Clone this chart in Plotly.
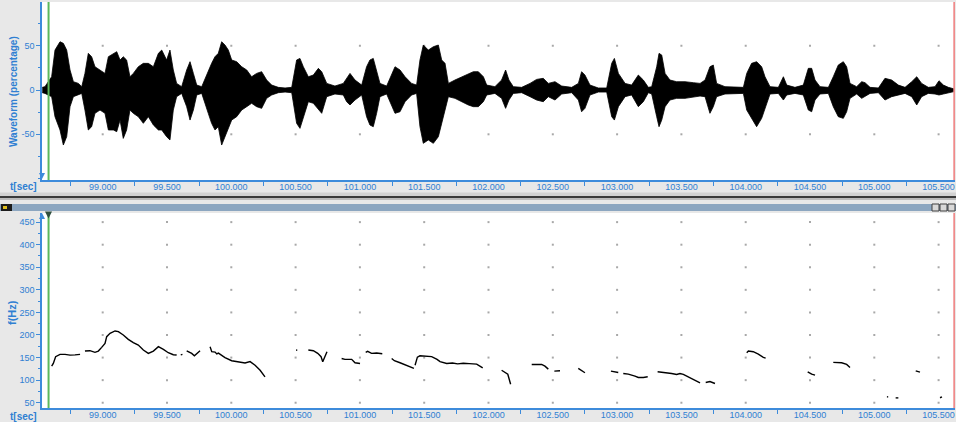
import plotly.graph_objects as go

# ---------------- data ----------------
x_ticks = [99.0, 99.5, 100.0, 100.5, 101.0, 101.5, 102.0, 102.5, 103.0, 103.5, 104.0, 104.5, 105.0, 105.5]
x_tick_labels = ["99.000", "99.500", "100.000", "100.500", "101.000", "101.500", "102.000",
                 "102.500", "103.000", "103.500", "104.000", "104.500", "105.000", "105.500"]
wave_y_ticks = [-50, 0, 50]
wave_y_labels = ["-50", "0", "50"]
pitch_y_ticks = [50, 100, 150, 200, 250, 300, 350, 400, 450]
pitch_y_labels = ["50", "100", "150", "200", "250", "300", "350", "400", "450"]

# waveform envelope (time in s, upper / lower amplitude in %)
wave_t = [98.530, 98.551, 98.603, 98.629, 98.668, 98.694, 98.720, 98.746, 98.772, 98.811,
          98.837, 98.862, 98.888, 98.914, 98.940, 98.979, 99.018, 99.044, 99.083, 99.109,
          99.135, 99.160, 99.186, 99.212, 99.238, 99.277, 99.316, 99.355, 99.394, 99.433,
          99.459, 99.497, 99.523, 99.549, 99.575, 99.614, 99.653, 99.679, 99.705, 99.731,
          99.770, 99.821, 99.847, 99.873, 99.899, 99.925, 99.951, 99.977, 100.003, 100.042,
          100.081, 100.120, 100.158, 100.197, 100.236, 100.275, 100.314, 100.366, 100.418, 100.470,
          100.508, 100.534, 100.560, 100.599, 100.638, 100.677, 100.703, 100.742, 100.806, 100.871,
          100.897, 100.923, 100.962, 101.014, 101.052, 101.078, 101.104, 101.130, 101.156, 101.208,
          101.247, 101.273, 101.312, 101.351, 101.402, 101.441, 101.467, 101.493, 101.532, 101.571,
          101.610, 101.636, 101.662, 101.688, 101.739, 101.791, 101.843, 101.882, 101.921, 101.960,
          101.986, 102.050, 102.102, 102.133, 102.159, 102.193, 102.258, 102.323, 102.374, 102.426,
          102.465, 102.517, 102.569, 102.647, 102.699, 102.724, 102.750, 102.789, 102.854, 102.919,
          102.958, 102.979, 103.010, 103.062, 103.113, 103.165, 103.204, 103.243, 103.269, 103.308,
          103.326, 103.347, 103.373, 103.411, 103.463, 103.528, 103.593, 103.645, 103.684, 103.722,
          103.748, 103.774, 103.839, 103.917, 103.982, 104.008, 104.046, 104.085, 104.124, 104.150,
          104.189, 104.254, 104.293, 104.319, 104.383, 104.448, 104.487, 104.513, 104.539, 104.578,
          104.643, 104.681, 104.720, 104.759, 104.785, 104.811, 104.863, 104.902, 104.928, 104.967,
          105.032, 105.083, 105.135, 105.187, 105.239, 105.291, 105.330, 105.368, 105.420, 105.472,
          105.503, 105.537, 105.576, 105.615, 105.628]
wave_upper = [3.0, 3.8, 15.0, 45.1, 54.5, 52.7, 45.1, 22.6, 9.4, 7.5,
              3.8, 18.8, 41.4, 37.6, 26.3, 22.6, 18.8, 37.6, 41.4, 43.3,
              33.9, 37.6, 33.9, 15.0, 18.8, 26.3, 30.1, 30.1, 26.3, 41.4,
              45.1, 33.9, 45.1, 22.6, 7.5, 3.8, 22.6, 32.0, 18.8, 5.6,
              3.8, 22.6, 30.1, 37.6, 41.4, 54.5, 50.8, 45.1, 33.9, 32.0,
              26.3, 22.6, 15.0, 18.8, 20.7, 11.3, 5.6, 3.0, 2.3, 3.0,
              33.9, 35.7, 26.3, 15.0, 16.9, 24.5, 20.7, 7.5, 4.5, 7.5,
              13.2, 18.8, 11.3, 5.6, 26.3, 33.9, 35.7, 22.6, 7.5, 4.5,
              18.8, 26.3, 22.6, 15.0, 7.5, 5.6, 33.9, 50.8, 45.1, 48.9,
              50.8, 33.9, 30.1, 7.5, 11.3, 15.0, 18.8, 20.7, 20.7, 15.0,
              5.6, 3.8, 11.3, 22.6, 11.3, 3.8, 3.0, 7.5, 12.0, 13.2,
              7.5, 9.4, 4.5, 3.0, 7.5, 20.7, 16.9, 5.6, 2.3, 2.3,
              30.1, 35.7, 18.8, 7.5, 5.6, 16.9, 11.3, 3.0, 3.8, 26.3,
              41.4, 39.5, 18.8, 11.3, 9.4, 9.4, 8.3, 7.5, 11.3, 26.3,
              28.2, 7.5, 3.8, 3.0, 3.0, 18.8, 30.1, 32.0, 26.3, 15.0,
              3.8, 3.0, 15.0, 5.6, 3.0, 5.6, 24.5, 24.5, 11.3, 3.8,
              3.0, 15.0, 28.2, 32.0, 26.3, 7.5, 3.8, 9.4, 8.3, 3.0,
              2.3, 13.2, 11.3, 5.6, 3.0, 9.4, 15.0, 7.5, 3.0, 3.8,
              10.5, 5.6, 3.0, 1.5, 1.5]
wave_lower = [-3.0, -3.8, -7.5, -30.1, -45.1, -62.1, -52.7, -18.8, -7.5, -5.6,
              -3.8, -22.6, -45.1, -41.4, -26.3, -22.6, -26.3, -45.1, -45.1, -47.0,
              -33.9, -54.6, -45.1, -22.6, -26.3, -30.1, -37.6, -30.1, -39.5, -45.1,
              -45.1, -52.7, -56.4, -22.6, -7.5, -3.8, -18.8, -33.9, -22.6, -5.6,
              -3.8, -26.3, -37.6, -45.1, -41.4, -62.1, -52.7, -45.1, -33.9, -30.1,
              -22.6, -18.8, -15.0, -18.8, -20.7, -9.4, -5.6, -3.0, -2.3, -3.0,
              -37.6, -43.3, -30.1, -13.2, -15.0, -22.6, -26.3, -7.5, -4.5, -5.6,
              -13.2, -16.9, -11.3, -5.6, -30.1, -39.5, -41.4, -26.3, -7.5, -4.5,
              -18.8, -26.3, -24.5, -13.2, -5.6, -3.8, -41.4, -60.2, -56.4, -60.2,
              -52.7, -37.6, -22.6, -7.5, -9.4, -13.2, -16.9, -18.8, -18.8, -13.2,
              -5.6, -3.8, -9.4, -20.7, -11.3, -3.8, -3.0, -7.5, -11.3, -13.2,
              -7.5, -11.3, -4.5, -3.0, -11.3, -24.5, -20.7, -5.6, -2.3, -2.3,
              -30.1, -33.9, -18.8, -7.5, -5.6, -18.8, -13.2, -3.0, -4.5, -30.1,
              -41.4, -33.9, -18.8, -11.3, -9.4, -9.4, -7.5, -6.8, -7.5, -26.3,
              -18.8, -7.5, -4.5, -3.8, -3.8, -22.6, -32.0, -41.4, -32.0, -20.7,
              -4.5, -3.8, -11.3, -5.6, -3.8, -5.6, -22.6, -24.5, -11.3, -4.5,
              -3.8, -18.8, -30.1, -32.0, -24.5, -9.4, -4.5, -9.4, -7.5, -3.8,
              -3.0, -11.3, -7.5, -5.6, -3.8, -7.5, -16.9, -7.5, -3.8, -4.5,
              -5.6, -4.5, -3.0, -1.5, -1.5]

# pitch track (time in s, f in Hz); None separates voiced segments
pitch_t = [98.603, 98.616, 98.634, 98.668, 98.707, 98.746, 98.785, 98.824, None,
           98.862, 98.901, 98.940, 98.966, 98.992, 99.018, 99.031, 99.057, 99.096, 99.122,
           99.160, 99.199, 99.238, 99.277, 99.316, 99.355, 99.394, 99.433, 99.472, 99.510,
           99.549, 99.575, None,
           99.607, 99.620, None,
           99.653, 99.692, 99.713, 99.738, 99.757, None,
           99.835, 99.848, 99.874, 99.887, 99.900, 99.951, 100.003, 100.055, 100.107, 100.146,
           100.185, 100.224, 100.262, None,
           100.503, 100.513, None,
           100.599, 100.638, 100.672, 100.698, 100.711, 100.729, 100.744, None,
           100.858, 100.884, 100.936, 100.962, 101.001, None,
           101.045, 101.060, 101.091, 101.130, 101.174, None,
           101.247, 101.268, 101.312, 101.363, 101.420, None,
           101.429, 101.447, 101.467, 101.510, 101.558, 101.600, 101.623, 101.675, 101.720, 101.760,
           101.804, 101.850, 101.908, 101.955, None,
           102.102, 102.130, 102.150, 102.160, 102.172, None,
           102.336, 102.413, 102.439, 102.465, None,
           102.512, 102.556, None,
           102.698, 102.724, 102.750, None,
           102.952, 103.009, None,
           103.048, 103.087, 103.139, 103.165, 103.204, 103.238, None,
           103.315, 103.373, 103.424, 103.463, 103.489, 103.515, 103.554, 103.606, 103.645, None,
           103.689, 103.722, 103.761, None,
           104.008, 104.021, 104.059, 104.098, 104.137, 104.155, None,
           104.482, 104.513, 104.539, None,
           104.681, 104.746, 104.785, 104.811, None,
           105.098, 105.108, None,
           105.166, 105.187, None,
           105.322, 105.355, None,
           105.511, 105.526]
pitch_hz = [131, 137, 152, 157, 157, 155.5, 156, 157, None,
            164.4, 165.2, 161.5, 164.4, 172.6, 181.5, 196.3, 203.7, 208.9, 207.4,
            200, 190.4, 183, 177.8, 166.7, 159.3, 164.4, 174.1, 168.1, 160.7,
            156.3, 155.6, None,
            156, 157, None,
            165, 159.3, 154, 161.5, 165, None,
            174, 163, 162, 158, 160, 150, 143, 140.5, 138, 141,
            133, 122, 107.4, None,
            166.5, 166.5, None,
            166.7, 165.2, 159.3, 151.9, 140.7, 155.6, 163, None,
            148, 146, 146, 138.5, 137, None,
            161.5, 163.7, 159.3, 160, 158.5, None,
            148, 143, 138.5, 133.3, 126, None,
            133, 151, 154, 153.5, 152, 146, 141, 137, 138, 136,
            137.5, 136.5, 135.5, 127, None,
            122, 117, 113, 103, 91, None,
            134.8, 134.8, 131, 124.4, None,
            120, 120.7, None,
            125.9, 121.5, 116.3, None,
            120, 117, None,
            114.8, 113.3, 108.9, 105.9, 105.9, 107.4, None,
            118.5, 117, 114.8, 112.6, 114.8, 112.6, 107.4, 100, 94.1, None,
            94.8, 97, 92.6, None,
            160.7, 164.4, 163, 157.8, 150.4, 148.9, None,
            118.5, 113.3, 111, None,
            139.3, 138.5, 134.8, 128.1, None,
            63, 63, None,
            60.7, 60.7, None,
            120.7, 117.8, None,
            61, 63]

# cursor positions (s)
cursor_left = 98.579
cursor_right = 105.622

# ---------------- style / layout helpers ----------------
W, H = 956, 422
BLUE = "#2f7fd2"
AXBLUE = "#3d8bdb"
FONT = "Liberation Sans, Arial, sans-serif"
X_RANGE = [98.528, 105.6275]


def px(x):
    return x / W


def py(y):
    return 1 - y / H


X_DOMAIN = [px(42), px(955)]
TOP_DOM = [py(180), py(2)]
BOT_DOM = [py(408), py(213)]

fig = go.Figure()

# grid dots (at major tick intersections)
gx, gy = [], []
for xv in x_ticks:
    for yv in wave_y_ticks:
        gx.append(xv)
        gy.append(yv)
fig.add_trace(go.Scatter(x=gx, y=gy, mode="markers", xaxis="x", yaxis="y",
                         marker=dict(color="#a8a8a8", size=2, symbol="square"),
                         hoverinfo="skip"))
gx2, gy2 = [], []
for xv in x_ticks:
    for yv in pitch_y_ticks:
        gx2.append(xv)
        gy2.append(yv)
fig.add_trace(go.Scatter(x=gx2, y=gy2, mode="markers", xaxis="x2", yaxis="y2",
                         marker=dict(color="#a8a8a8", size=2, symbol="square"),
                         hoverinfo="skip"))

# waveform envelope
fig.add_trace(go.Scatter(x=wave_t, y=wave_upper, mode="lines",
                         line=dict(color="black", width=0.8), xaxis="x", yaxis="y",
                         hoverinfo="skip"))
fig.add_trace(go.Scatter(x=wave_t, y=wave_lower, mode="lines", fill="tonexty",
                         fillcolor="black", line=dict(color="black", width=0.8),
                         xaxis="x", yaxis="y", hoverinfo="skip"))

# pitch
fig.add_trace(go.Scatter(x=pitch_t, y=pitch_hz, mode="lines", xaxis="x2", yaxis="y2",
                         line=dict(color="black", width=1.4), connectgaps=False,
                         hoverinfo="skip"))

tickfont = dict(family=FONT, size=9, color=BLUE)


def xaxis_def(anchor):
    return dict(domain=X_DOMAIN, range=X_RANGE, anchor=anchor, automargin=False,
                tickmode="array", tickvals=x_ticks, ticktext=x_tick_labels,
                ticks="", ticklabelstandoff=-3,
                showline=True, linecolor=AXBLUE, linewidth=1.5,
                showgrid=False, zeroline=False, tickfont=tickfont,
                minor=dict(tickmode="linear", tick0=98.75, dtick=0.5, ticks="outside",
                           ticklen=4, tickcolor=AXBLUE, showgrid=False),
                fixedrange=True)


def yaxis_def(dom, rng, vals, labels, anchor):
    return dict(domain=dom, range=rng, anchor=anchor, automargin=False,
                tickmode="array", tickvals=vals, ticktext=labels,
                ticks="outside", ticklen=4, tickcolor=AXBLUE,
                showline=True, linecolor=AXBLUE, linewidth=1.5,
                showgrid=False, zeroline=False, tickfont=tickfont,
                minor=dict(tickmode="linear", tick0=0, dtick=25, ticks="outside",
                           ticklen=2, tickcolor=AXBLUE, showgrid=False),
                fixedrange=True)


shapes = []
# divider and title bar of lower panel
shapes.append(dict(type="rect", xref="paper", yref="paper", x0=0, x1=1, y0=py(196), y1=py(192.5),
                   fillcolor="#d2d2d2", line=dict(width=0), layer="below"))
shapes.append(dict(type="rect", xref="paper", yref="paper", x0=0, x1=1, y0=py(198), y1=py(196),
                   fillcolor="#3a3a3a", line=dict(width=0)))
shapes.append(dict(type="rect", xref="paper", yref="paper", x0=0, x1=1, y0=py(199.5), y1=py(198.5),
                   fillcolor="#8c8c8c", line=dict(width=0)))
shapes.append(dict(type="rect", xref="paper", yref="paper", x0=0, x1=1, y0=py(211), y1=py(204),
                   fillcolor="#8ca6c0", line=dict(width=0)))
shapes.append(dict(type="rect", xref="paper", yref="paper", x0=px(1), x1=px(12), y0=py(211), y1=py(204),
                   fillcolor="#1c1c1c", line=dict(width=0)))
shapes.append(dict(type="rect", xref="paper", yref="paper", x0=px(3), x1=px(7), y0=py(209), y1=py(206),
                   fillcolor="#e0c020", line=dict(width=0)))
for bx in (932, 940, 948):
    shapes.append(dict(type="rect", xref="paper", yref="paper", x0=px(bx), x1=px(bx + 7),
                       y0=py(211), y1=py(204), fillcolor="#d8d8d8",
                       line=dict(color="#404040", width=1)))

# cursors
for dom in (TOP_DOM, BOT_DOM):
    shapes.append(dict(type="line", xref="x", yref="paper", x0=cursor_left, x1=cursor_left,
                       y0=dom[0], y1=dom[1], line=dict(color="#5cb85c", width=2), layer="above"))
    shapes.append(dict(type="line", xref="x", yref="paper", x0=cursor_right, x1=cursor_right,
                       y0=dom[0], y1=dom[1], line=dict(color="#f08a8a", width=2), layer="above"))


def tri(xc, yc, down=True, color=AXBLUE, s=3):
    if down:
        path = f"M {px(xc - s)},{py(yc - s)} L {px(xc + s)},{py(yc - s)} L {px(xc)},{py(yc + s)} Z"
    else:
        path = f"M {px(xc - s)},{py(yc + s)} L {px(xc + s)},{py(yc + s)} L {px(xc)},{py(yc - s)} Z"
    return dict(type="path", xref="paper", yref="paper", path=path,
                fillcolor=color, line=dict(width=0), layer="above")


shapes.append(tri(42, 176, down=True))
shapes.append(tri(42, 216, down=False))
shapes.append(tri(48.5, 215, down=True, color="#2f4f3f", s=3.5))

annotations = [
    dict(text="<b>Waveform (percentage)</b>", x=px(13), y=py(92), xref="paper", yref="paper",
         xanchor="center", yanchor="middle",
         showarrow=False, textangle=-90, font=dict(family=FONT, size=10, color=BLUE)),
    dict(text="<b>f(Hz)</b>", x=px(12), y=py(313), xref="paper", yref="paper",
         xanchor="center", yanchor="middle",
         showarrow=False, textangle=-90, font=dict(family=FONT, size=11, color=BLUE)),
    dict(text="<b>t[sec]</b>", x=px(8), y=py(186), xref="paper", yref="paper",
         xanchor="left", yanchor="middle", showarrow=False,
         font=dict(family=FONT, size=10, color=BLUE)),
    dict(text="<b>t[sec]</b>", x=px(8), y=py(416), xref="paper", yref="paper",
         xanchor="left", yanchor="middle", showarrow=False,
         font=dict(family=FONT, size=10, color=BLUE)),
]

fig.update_layout(
    width=W, height=H,
    margin=dict(l=0, r=0, t=0, b=0, autoexpand=False),
    paper_bgcolor="#e8e8e8",
    plot_bgcolor="white",
    showlegend=False,
    xaxis=xaxis_def("y"),
    yaxis=yaxis_def(TOP_DOM, [-101.6, 99.4], wave_y_ticks, wave_y_labels, "x"),
    xaxis2=xaxis_def("y2"),
    yaxis2=yaxis_def(BOT_DOM, [38.3, 470.2], pitch_y_ticks, pitch_y_labels, "x2"),
    shapes=shapes,
    annotations=annotations,
)

# remove the browser's default page margin so the 956x422 figure fills the window exactly
fig.write_html("out.html", config={"displayModeBar": False},
               post_script="document.body.style.margin='0';document.body.style.overflow='hidden';")
